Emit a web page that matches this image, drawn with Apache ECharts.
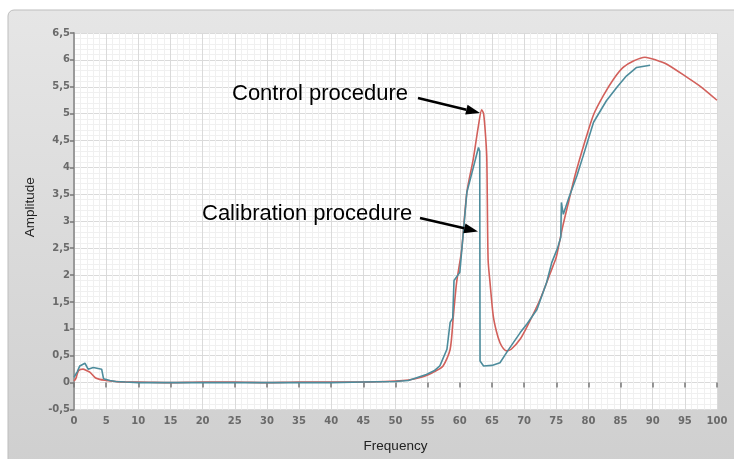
<!DOCTYPE html>
<html>
<head>
<meta charset="utf-8">
<script src="https://cdn.jsdelivr.net/npm/echarts@6/dist/echarts.min.js"></script>
<style>
html, body { margin: 0; padding: 0; background: #fff; }
#main { width: 734px; height: 459px; }
</style>
</head>
<body>
<div id="main"></div>
<script>
// frequency / amplitude
var ctrlFreq = [0, 0.3, 0.7, 1.4, 2.0, 2.5, 3.3, 4.0, 5.0, 5.6, 6.5, 8, 10, 15, 20, 25, 30, 35, 40, 45, 50, 52, 54, 55, 56, 57.4, 58.5, 59, 59.5, 60.3, 61.1, 62.1, 62.9, 63.4, 63.7, 64.0, 64.2, 64.4, 64.7, 65.2, 65.7, 66.25, 66.8, 67.3, 68, 69.4, 70.5, 72.5, 74.5, 75, 76, 77, 77.9, 79.5, 80.8, 82.3, 83.9, 85.4, 87, 88.8, 90.5, 92.2, 95.3, 97.5, 100];
var ctrlAmp = [0.03, 0.08, 0.22, 0.25, 0.22, 0.19, 0.09, 0.06, 0.04, 0.03, 0.02, 0.01, 0.01, 0.0, 0.01, 0.01, 0.0, 0.01, 0.01, 0.01, 0.03, 0.05, 0.1, 0.14, 0.2, 0.31, 0.62, 1.24, 1.86, 2.48, 3.54, 4.16, 4.78, 5.07, 5.0, 4.6, 4.16, 2.29, 1.86, 1.24, 0.95, 0.74, 0.63, 0.59, 0.62, 0.81, 1.05, 1.55, 2.17, 2.33, 2.9, 3.4, 3.84, 4.5, 4.98, 5.33, 5.64, 5.86, 5.98, 6.05, 6.0, 5.92, 5.68, 5.5, 5.25];

var calFreq = [0, 0.5, 0.9, 1.7, 2.2, 2.4, 3.0, 4.3, 4.6, 5.6, 6.5, 8, 10, 15, 20, 25, 30, 35, 40, 45, 50, 52, 54.8, 56, 56.9, 58, 58.5, 58.9, 59.1, 60, 61.1, 62, 62.9, 63.1, 63.15, 63.7, 63.96, 65, 66.25, 67.5, 69.4, 70.5, 72, 73.5, 74.3, 75.2, 75.7, 75.8, 76.1, 77, 78.2, 79.2, 80.8, 82.8, 84.5, 85.9, 87.5, 89.6];
var calAmp = [0.1, 0.2, 0.31, 0.36, 0.25, 0.22, 0.28, 0.25, 0.07, 0.04, 0.02, 0.01, 0.0, 0.0, 0.0, 0.0, 0.0, 0.0, 0.0, 0.01, 0.02, 0.04, 0.15, 0.22, 0.31, 0.62, 1.12, 1.2, 1.9, 2.05, 3.54, 3.95, 4.37, 4.3, 0.4, 0.31, 0.28, 0.32, 0.37, 0.6, 0.93, 1.1, 1.36, 1.86, 2.23, 2.5, 2.7, 3.35, 3.13, 3.45, 3.84, 4.22, 4.84, 5.24, 5.5, 5.7, 5.86, 5.9];

function pairs(xs, ys) {
    var out = [];
    for (var i = 0; i < xs.length; i++) {
        out.push([xs[i], ys[i]]);
    }
    return out;
}

// arrow = shaft + filled head, tip at (tx,ty)
function arrow(x0, y0, tx, ty) {
    var dx = tx - x0, dy = ty - y0;
    var len = Math.sqrt(dx * dx + dy * dy);
    var ux = dx / len, uy = dy / len;
    var bx = tx - 14 * ux, by = ty - 14 * uy;
    var nx = -uy, ny = ux;
    return [
        {
            type: 'line', z: 100,
            shape: {x1: x0, y1: y0, x2: bx, y2: by},
            style: {stroke: '#000', lineWidth: 2.5}
        },
        {
            type: 'polygon', z: 100,
            shape: {points: [[tx, ty], [bx + 5 * nx, by + 5 * ny], [bx - 5 * nx, by - 5 * ny]]},
            style: {fill: '#000'}
        }
    ];
}

var myChart = echarts.init(document.getElementById('main'));

var labelFmt = function (v) {
    return String(v).replace('.', ',');
};

var graphics = [
    {
        type: 'rect', z: -10,
        shape: {x: 8, y: 10, width: 740, height: 460, r: 6},
        style: {
            fill: new echarts.graphic.LinearGradient(0, 0, 0, 1, [
                {offset: 0, color: '#e6e6e6'},
                {offset: 1, color: '#cfcfcf'}
            ]),
            stroke: '#bdbdbd', lineWidth: 1
        }
    },
    {
        type: 'text', z: 100, left: 232, top: 83,
        style: {text: 'Control procedure', font: '22px "Liberation Sans", Arial', fill: '#000'}
    },
    {
        type: 'text', z: 100, left: 202, top: 203,
        style: {text: 'Calibration procedure', font: '22px "Liberation Sans", Arial', fill: '#000'}
    }
].concat(arrow(418, 98, 480, 113)).concat(arrow(420, 218, 478, 231.5));

option = {
    animation: false,
    backgroundColor: '#fff',
    graphic: graphics,
    grid: {
        left: 74,
        right: 17,
        top: 33,
        bottom: 49.5,
        show: true,
        backgroundColor: '#fff',
        borderWidth: 0,
        containLabel: false
    },
    xAxis: {
        type: 'value',
        min: 0,
        max: 100,
        interval: 5,
        name: 'Frequency',
        nameLocation: 'middle',
        nameGap: 30,
        nameTextStyle: {fontFamily: '"Liberation Sans", Arial', fontSize: 13.5, color: '#222'},
        axisLine: {show: false},
        axisTick: {show: true, length: 5, lineStyle: {color: '#777', width: 1.5}},
        axisLabel: {margin: 7, fontFamily: '"DejaVu Sans"', fontSize: 10, fontWeight: 'bold', color: '#6a6a6a'},
        splitLine: {show: true, lineStyle: {color: '#dadada', width: 1}},
        minorTick: {show: false, splitNumber: 5},
        minorSplitLine: {show: true, lineStyle: {color: '#f0f0f0', width: 1}}
    },
    yAxis: {
        type: 'value',
        min: -0.5,
        max: 6.5,
        interval: 0.5,
        name: 'Amplitude',
        nameLocation: 'middle',
        nameGap: 37,
        nameTextStyle: {fontFamily: '"Liberation Sans", Arial', fontSize: 13.5, color: '#222', padding: [0, 0, 0, 28]},
        axisLine: {show: true, lineStyle: {color: '#9a9a9a', width: 2}},
        axisTick: {show: true, length: 4, lineStyle: {color: '#777', width: 1.5}},
        axisLabel: {margin: 4, formatter: labelFmt, fontFamily: '"DejaVu Sans"', fontSize: 10, fontWeight: 'bold', color: '#6a6a6a'},
        splitLine: {show: true, lineStyle: {color: '#dadada', width: 1}},
        minorTick: {show: false, splitNumber: 5},
        minorSplitLine: {show: true, lineStyle: {color: '#f0f0f0', width: 1}}
    },
    series: [
        {
            name: 'Control procedure',
            type: 'line',
            data: pairs(ctrlFreq, ctrlAmp),
            showSymbol: false,
            smooth: 0.25,
            lineStyle: {color: '#d2605b', width: 1.6},
            itemStyle: {color: '#d2605b'}
        },
        {
            name: 'Calibration procedure',
            type: 'line',
            data: pairs(calFreq, calAmp),
            showSymbol: false,
            lineStyle: {color: '#4d8c9c', width: 1.6},
            itemStyle: {color: '#4d8c9c'}
        }
    ]
};
myChart.setOption(option);
</script>
</body>
</html>
